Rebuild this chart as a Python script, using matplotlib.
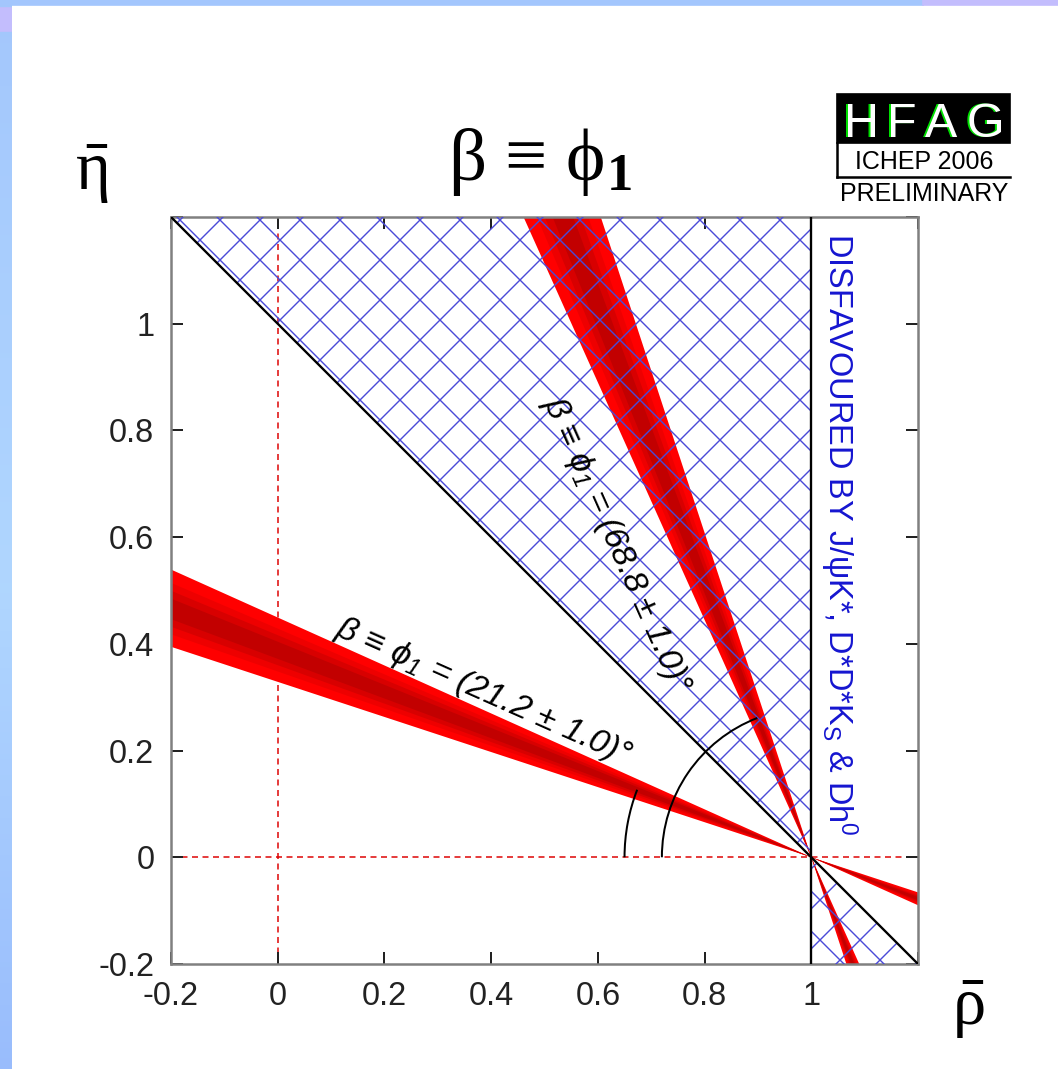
import numpy as np
import matplotlib
matplotlib.use("Agg")
import matplotlib.pyplot as plt
from matplotlib.patches import Arc, Rectangle
from matplotlib.lines import Line2D

plt.rcParams['font.family'] = ['Liberation Sans', 'DejaVu Sans']
plt.rcParams['mathtext.fontset'] = 'custom'
plt.rcParams['mathtext.rm'] = 'Liberation Serif'
plt.rcParams['mathtext.bf'] = 'Liberation Serif:bold'
plt.rcParams['mathtext.default'] = 'regular'
plt.rcParams['hatch.linewidth'] = 0.85

# measured angles (deg) with error, band half-widths in units of sigma
angles = [21.2, 68.8]
angle_err = 1.0
arc_radius = [0.35, 0.28]
band_sigma = [3.0, 2.0, 1.4, 0.8]
band_colors = ['#ff0000', '#ee0000', '#d80000', '#c20000']
apex = (1.0, 0.0)
disfav_upper = [90.0, 135.0]
disfav_lower = [270.0, 315.0]

ticks = [-0.2, 0, 0.2, 0.4, 0.6, 0.8, 1.0, 1.2]
tick_labels = ['-0.2', '0', '0.2', '0.4', '0.6', '0.8', '1', '']


def wedge(a1, a2, r=4.0):
    t = np.radians([a1, a2])
    xs = [apex[0], apex[0] + r * np.cos(t[0]), apex[0] + r * np.cos(t[1])]
    ys = [apex[1], apex[1] + r * np.sin(t[0]), apex[1] + r * np.sin(t[1])]
    return xs, ys


W, H, DPI = 1058, 1069, 120
fig = plt.figure(figsize=(W / DPI, H / DPI), dpi=DPI)

# slide background strips
strip = fig.add_axes([0, 0, 12 / W, 1])
grad = np.array([[0.60, 0.74, 0.99], [0.69, 0.84, 1.0], [0.64, 0.78, 0.99]])
yy = np.linspace(0, 1, 200)
img = np.stack([np.interp(yy, [0, 0.45, 1], grad[:, i]) for i in range(3)], axis=-1)
strip.imshow(img[:, None, :], aspect='auto', origin='lower', extent=[0, 1, 0, 1])
strip.add_patch(Rectangle((0, 1 - 31 / H), 1, 23 / H, color='#c3bdfd'))
strip.set_axis_off()
fig.add_artist(Rectangle((0, 1 - 5 / H), 923 / W, 5 / H, color='#a3c6fd', transform=fig.transFigure))
fig.add_artist(Rectangle((923 / W, 1 - 5 / H), 1 - 923 / W, 5 / H, color='#c3bdfd', transform=fig.transFigure))

ax = fig.add_axes([171 / W, 105 / H, 747 / W, 747 / H])
ax.set_xlim(-0.2, 1.2)
ax.set_ylim(-0.2, 1.2)

# reference dashed lines
ax.axhline(0, color='#dd0000', lw=0.9, ls=(0, (4, 3)), zorder=1)
ax.axvline(0, color='#dd0000', lw=0.9, ls=(0, (4, 3)), zorder=1)

# red bands
for ang in angles:
    for k, c in zip(band_sigma, band_colors):
        for base in (180 - ang, 360 - ang):
            xs, ys = wedge(base - k * angle_err, base + k * angle_err)
            ax.fill(xs, ys, color=c, lw=0, zorder=2)

# disfavoured region
for a1, a2 in (disfav_upper, disfav_lower):
    xs, ys = wedge(a1, a2)
    ax.fill(xs, ys, facecolor='none', edgecolor='#4a4ad8', hatch='x', lw=0, zorder=3)

ax.axvline(apex[0], color='k', lw=1.4, zorder=4)
ax.axline(apex, slope=np.tan(np.radians(disfav_upper[1])), color='k', lw=1.4, zorder=4)

for ang, r in zip(angles, arc_radius):
    ax.add_patch(Arc(apex, 2 * r, 2 * r, theta1=180 - ang, theta2=180, color='k', lw=1.2, zorder=5))

ax.text(0.385, 0.31, f'β ≡ ϕ$_1$ = ({angles[0]:.1f} ± {angle_err:.1f})°',
        rotation=-24, rotation_mode='anchor', ha='center', va='center',
        style='italic', fontsize=20.5, zorder=6)
ax.text(0.635, 0.585, f'β ≡ ϕ$_1$ = ({angles[1]:.1f} ± {angle_err:.1f})°',
        rotation=-66, rotation_mode='anchor', ha='center', va='center',
        style='italic', fontsize=20.5, zorder=6)
ax.text(1.051, 1.17, 'DISFAVOURED BY J/ψK*, D*D*K$_S$ & Dh$^0$',
        rotation=-90, ha='center', va='top', color='#1515d0', fontsize=19.5, zorder=6)

ax.set_xticks(ticks)
ax.set_yticks(ticks)
ax.set_xticklabels(tick_labels)
ax.set_yticklabels(tick_labels)
ax.tick_params(direction='in', top=True, right=True, length=7, width=1.2,
               labelsize=19.5, pad=10, colors='#222222')
for s in ax.spines.values():
    s.set_color('#808080')
    s.set_linewidth(1.5)

# title and axis labels
fig.text(448 / W, 1 - 180 / H, r'β ≡ ϕ$_{\mathbf{1}}$', family='Liberation Serif',
         fontsize=45, ha='left', va='baseline')
fig.text(92 / W, 1 - 190 / H, r'$\bar{\eta}$', family='Liberation Serif',
         fontsize=40, ha='center', va='baseline')
fig.text(968 / W, 1 - 1025 / H, r'$\bar{\rho}$', family='Liberation Serif',
         fontsize=40, ha='center', va='baseline')

# HFAG logo
fig.add_artist(Rectangle((837 / W, 1 - 143 / H), 173 / W, 49 / H, color='k', transform=fig.transFigure))
for ch, xc in zip('HFAG', [862, 902, 941, 985]):
    fig.text((xc - 2) / W, 1 - 137 / H, ch, color='#00e000', fontsize=29, ha='center', va='baseline')
    fig.text(xc / W, 1 - 137 / H, ch, color='white', fontsize=29, ha='center', va='baseline')
fig.add_artist(Line2D([837 / W, 837 / W], [1 - 143 / H, 1 - 177 / H], color='k', lw=1.5, transform=fig.transFigure))
fig.add_artist(Line2D([837 / W, 1010 / W], [1 - 177 / H, 1 - 177 / H], color='k', lw=1.5, transform=fig.transFigure))
fig.text(924 / W, 1 - 169 / H, 'ICHEP 2006', fontsize=15, ha='center', va='baseline')
fig.text(924 / W, 1 - 201 / H, 'PRELIMINARY', fontsize=15, ha='center', va='baseline')

fig.savefig('out.png', dpi=DPI)
